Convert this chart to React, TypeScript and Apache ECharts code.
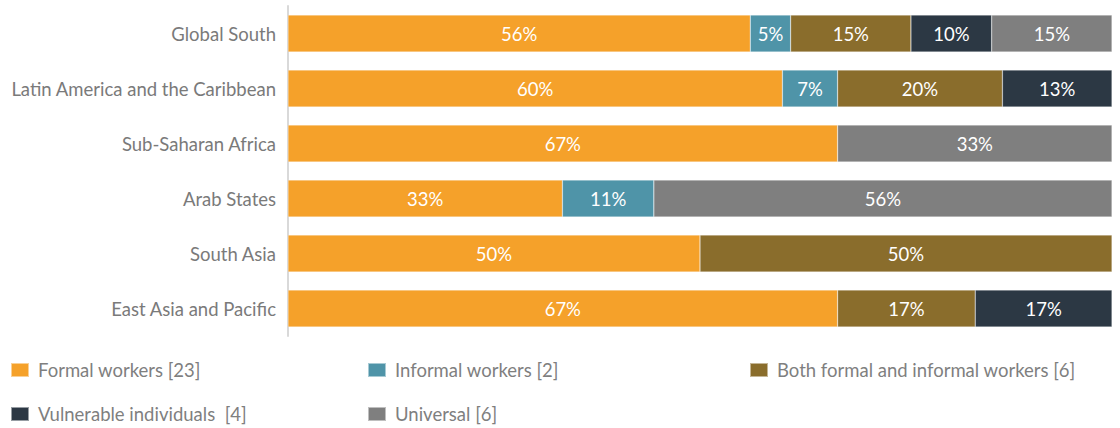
import React, { useEffect, useRef } from "react";
import * as echarts from "echarts";

const categories = [
  "Global South",
  "Latin America and the Caribbean",
  "Sub-Saharan Africa",
  "Arab States",
  "South Asia",
  "East Asia and Pacific",
];

const seriesNames = [
  "Formal workers [23]",
  "Informal workers [2]",
  "Both formal and informal workers [6]",
  "Vulnerable individuals  [4]",
  "Universal [6]",
];

const formal = [56.1, 60, 66.7, 33.3, 50, 66.7];
const informal = [4.9, 6.7, null, 11.1, null, null];
const both = [14.6, 20, null, null, 50, 16.7];
const vulnerable = [9.8, 13.3, null, null, null, 16.6];
const universal = [14.6, null, 33.3, 55.6, null, null];

const colors = ["#F5A12A", "#4F94A8", "#8A6D2C", "#2C3844", "#7F7F7F"];

const FONT = "Lato, 'Open Sans', sans-serif";
const FS = 18.5;

export default function App() {
  const ref = useRef<HTMLDivElement>(null);
  useEffect(() => {
    if (!ref.current) return;
    const chart = echarts.init(ref.current, null, { renderer: "svg" });
    const allData = [formal, informal, both, vulnerable, universal];
    const legendPos = [
      { left: 10, top: 360 },
      { left: 367, top: 360 },
      { left: 749, top: 360 },
      { left: 10, top: 404 },
      { left: 367, top: 404 },
    ];
    chart.setOption({
      animation: false,
      textStyle: { fontFamily: FONT },
      grid: { left: 288, right: 8, top: 6, height: 330, containLabel: false },
      xAxis: { type: "value", min: 0, max: 100, show: false },
      yAxis: {
        type: "category",
        data: categories,
        inverse: true,
        axisLine: { show: true, lineStyle: { color: "#D9D9D9", width: 2 } },
        axisTick: { show: false },
        axisLabel: { color: "#7A7A7A", fontSize: FS, margin: 12, fontFamily: FONT, padding: [0, 0, 3, 0] },
      },
      legend: seriesNames.map((n, i) => ({
        data: [n],
        left: legendPos[i].left,
        top: legendPos[i].top,
        padding: 0,
        icon: "rect",
        itemWidth: 18,
        itemHeight: 14,
        selectedMode: false,
        textStyle: { color: "#7F7F7F", fontSize: FS, fontFamily: FONT, lineHeight: 20, padding: [0, 0, 0, 4] },
      })),
      series: seriesNames.map((n, i) => ({
        name: n,
        type: "bar",
        stack: "total",
        barCategoryGap: "33%",
        data: allData[i],
        itemStyle: { color: colors[i], borderColor: "rgba(255,255,255,0.5)", borderWidth: 0.5 },
        label: {
          show: true,
          position: "inside",
          color: "#FFFFFF",
          fontSize: FS,
          fontFamily: FONT,
          formatter: (p: any) => (p.value == null ? "" : Math.round(p.value) + "%"),
        },
      })),
    });
    return () => chart.dispose();
  }, []);
  return (
    <div
      ref={ref}
      style={{ position: "fixed", left: 0, top: 0, width: 1120, height: 428, background: "#fff" }}
    />
  );
}
